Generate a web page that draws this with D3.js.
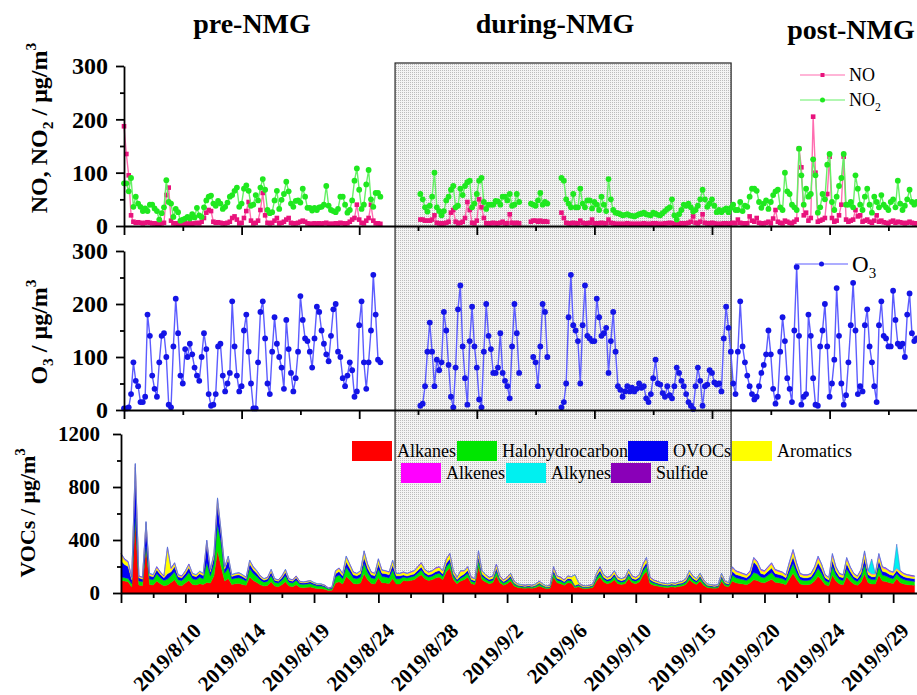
<!DOCTYPE html>
<html><head><meta charset="utf-8">
<script src="https://cdn.jsdelivr.net/npm/d3@7"></script>
<style>body{margin:0;background:#fff}svg{display:block}text{font-family:"Liberation Serif","Times New Roman",serif}</style>
</head><body>
<svg id="c" width="917" height="695" font-family="Liberation Serif, Times New Roman, serif"></svg>
<script>
// ---------- DATA (gases: one value every 4 h; VOCs: one value every 6 h) ----------
const gasStepH = 4, vocStepH = 6;
const NO = [
187,135,95,20,8,6,7,6,5,6, 7,6,5,5,4,4,5,6,58,72, 10,5,5,4,4,4,5,4,5,4, 5,6,5,8,15,25,30,28,8,6,
7,6,5,5,6,8,15,18,12,5, 6,15,28,45,10,5,6,10,30,62, 20,6,5,6,10,15,5,6,8,12, 15,6,5,5,6,8,10,8,5,4,
4,5,4,5,4,5,6,4,4,4, 5,4,6,5,4,5,8,12,15,40, 12,6,5,10,15,40,10,5,5,4,
null,null,null,null,null,null,null,null,null,null, null,null,null,null,null,null,12,12,10,10,
10,12,20,6,5,5,5,6,8,25, 30,8,5,6,8,15,45,30,6,5, 10,50,35,15,5,5,5,6,5,5, 6,8,5,5,22,6,5,6,5,null,
null,null,null,8,10,10,8,10,8,9, 8,null,null,null,null,null,25,15,6,5, 5,6,5,5,10,6,5,5,6,12,
5,5,5,6,5,5,12,6,5,4, 4,4,4,4,5,4,4,4,4,4, 4,5,4,4,4,5,5,4,4,4, 5,5,6,5,4,4,4,5,5,5,
6,8,18,6,5,8,22,6,5,5, 6,5,4,4,4,5,5,4,5,6, 5,12,6,5,5,5,18,10,8,15, 6,5,5,6,8,5,14,30,8,6,
5,10,8,6,5,8,12,145,110,20, 25,10,15,205,100,8,10,12,15,60, 130,15,8,10,20,40,130,12,8,10,
12,30,18,20,8,10,12,8,6,10, 20,8,10,7,6,5,8,10,6,8, 7,6,5,6,8,6,5,5];
const NO2 = [
80,80,65,90,36,55,42,36,28,33, 28,40,40,33,28,12,24,35,86,45, 42,17,32,26,10,12,14,17,14,22, 16,34,20,17,35,48,55,57,42,38,
47,42,32,36,44,55,58,66,72,36, 42,70,76,66,38,40,58,48,72,88, 68,30,24,26,48,66,32,49,60,83, 65,42,36,47,48,44,70,55,34,34,
29,34,30,35,36,40,75,38,30,28, 26,32,55,55,40,25,30,48,85,108, 68,32,40,78,105,50,36,62,62,55,
null,null,null,null,null,null,null,null,null,null, null,null,null,null,null,null,60,50,35,27,
38,55,100,35,28,20,28,48,55,68, 75,35,38,70,58,75,82,85,35,42, 60,85,90,45,32,40,40,40,47,46, 40,55,55,48,60,38,40,60,45,null,
null,null,null,42,40,38,48,62,40,45, 42,null,null,null,null,null,90,85,50,42, 35,60,35,35,70,42,35,48,48,33,
45,40,30,55,40,28,88,50,30,25, 24,22,20,21,22,20,19,18,20,22, 23,25,22,21,20,25,23,21,20,24, 28,32,35,50,20,12,22,30,40,38,
42,35,27,30,38,50,68,50,36,42, 50,38,26,30,26,30,33,26,34,40, 30,30,45,28,38,36,55,70,70,66, 45,34,42,48,32,45,58,65,68,35,
30,100,65,60,40,35,30,145,95,40, 70,55,60,125,95,25,35,60,50,115, 135,45,30,55,75,90,135,40,40,45,
35,95,70,40,30,55,70,40,25,55, 45,35,58,40,35,30,45,50,35,85, 42,30,38,50,68,45,40,45];
const O3 = [
3,3,5,30,90,55,45,15,15,25, 180,140,65,40,25,90,140,145,100,10, 5,120,210,145,65,50,115,100,125,105, 80,65,55,100,145,115,30,8,10,30,
120,125,65,35,50,70,205,120,65,35, 45,150,180,110,50,3,3,90,185,205, 135,50,30,110,175,125,100,80,40,170, 115,70,35,60,110,215,170,135,130,110,
80,135,195,185,150,125,105,92,140,190, 200,110,100,60,45,65,90,75,25,35, 160,205,90,40,90,150,255,180,95,90,
null,null,null,null,null,null,null,null,null,null, null,null,null,null,null,null,8,12,45,110,
165,110,45,95,75,90,185,150,85,25, 5,80,190,235,120,60,10,130,195,120, 80,20,5,110,200,140,115,70,70,80, 145,70,55,45,22,120,200,145,70,null,
null,null,null,null,100,90,45,120,200,185, 100,null,null,null,null,null,5,15,50,175, 255,160,150,130,50,160,235,140,135,130,
130,210,175,140,145,155,70,130,185,110, 45,38,25,35,45,35,42,35,40,50, 42,45,22,15,30,60,95,50,48,32, 25,45,28,22,45,80,70,55,45,30,
15,8,2,45,80,55,8,45,48,75, 70,52,48,50,35,135,195,155,110,50, 30,110,205,120,90,65,45,30,20,25, 45,70,85,105,150,105,40,12,25,110,
175,130,60,40,15,150,270,140,10,25, 30,180,140,60,10,8,120,150,200,120, 25,50,95,230,140,50,10,28,90,160,
240,150,30,45,35,160,190,120,90,45, 15,160,205,140,135,120,120,225,170,125, 120,125,100,180,220,145,130,135];

const Alkanes = [
95,90,85,45,550,60,55,340,65,60, 90,70,55,60,80,100,60,55,75,95, 65,60,70,65,80,75,130,320,200,90, 110,65,70,72,65,58,120,95,80,62,
52,57,85,52,48,62,85,52,48,62, 43,40,43,45,38,33,33,28,18,20, 75,85,68,125,100,72,68,75,145,100, 72,68,115,78,76,72,110,68,68,95,
90,95,100,120,138,108,95,100,113,120, 100,160,190,100,70,90,100,120,70,65, 200,100,83,70,77,132,77,59,70,90, 53,41,38,35,38,35,41,53,41,32,
35,120,77,70,59,77,74,40,47,35, 32,35,41,90,120,83,70,77,100,70, 65,70,108,77,70,83,132,165,70,59, 53,47,44,41,47,44,50,53,65,100,
77,65,90,59,41,38,35,38,90,53, 47,90,77,72,68,63,77,100,95,81, 77,90,103,81,77,72,63,108,150,103, 68,63,63,68,90,126,99,63,54,135,
90,68,63,122,90,68,58,81,144,77, 68,68,135,90,86,77,72,110,77,68, 63,61,58];
const Halohydrocarbon = [
25,25,25,25,40,30,30,20,40,40, 55,45,40,45,50,60,40,38,45,60, 42,40,48,42,150,55,90,200,180,60, 80,40,42,43,40,32,65,52,45,35,
30,32,45,30,27,35,45,30,27,35, 25,24,25,26,22,20,20,17,12,13, 45,50,40,70,55,42,40,45,80,55, 42,40,65,46,45,42,65,40,40,25,
23,25,27,30,35,27,25,27,29,30, 27,38,40,27,19,22,27,30,19,17, 45,27,22,19,20,33,20,16,19,23, 14,11,10,9,10,9,11,14,11,9,
9,30,20,19,16,20,19,10,12,9, 9,9,11,23,30,22,19,20,27,19, 17,19,27,20,19,22,33,40,19,16, 14,12,12,11,12,12,13,14,17,27,
20,17,23,16,11,10,9,10,23,14, 12,45,38,36,33,31,38,55,50,40, 38,45,51,40,38,36,31,53,73,51, 33,31,31,33,45,62,49,31,27,66,
45,33,31,60,45,33,29,40,70,38, 33,33,66,45,42,38,36,35,38,33, 31,30,29];
const OVOCs = [
125,100,90,30,360,25,20,165,25,22, 30,25,20,40,30,40,22,22,28,38, 25,23,28,25,150,30,50,160,65,30, 65,20,22,23,20,17,35,28,25,18,
15,17,28,15,14,18,27,15,14,18, 12,11,12,13,11,9,9,8,5,6, 25,28,22,40,32,23,22,25,45,32, 23,22,38,26,25,23,37,22,22,16,
15,16,17,20,23,18,16,17,19,20, 17,26,28,17,12,15,17,20,12,11, 30,17,14,12,13,22,13,10,12,15, 9,7,7,6,7,6,7,9,7,5,
6,20,13,12,10,13,13,7,8,6, 5,6,7,15,20,14,12,13,17,12, 11,12,18,13,12,14,22,27,12,10, 9,8,7,7,8,7,8,9,11,17,
13,11,15,10,7,7,6,7,15,9, 8,30,25,24,22,21,25,80,60,27, 25,30,35,27,25,24,21,36,50,35, 22,21,21,22,30,42,33,21,18,45,
30,22,21,40,30,22,20,27,48,25, 22,22,45,30,28,25,24,25,25,22, 21,20,20];
const Aromatics = [
50,35,30,12,20,10,10,10,14,12, 18,14,10,195,22,22,12,10,15,20, 13,12,14,13,14,15,22,30,18,15, 18,11,12,12,11,9,22,18,15,11,
9,10,16,9,8,11,17,9,8,11, 7,7,7,8,6,5,5,4,3,4, 20,22,16,38,27,19,16,20,42,27, 19,16,35,20,19,19,32,16,16,19,
18,19,21,24,28,22,19,21,23,24, 21,30,36,21,15,38,21,24,15,13, 38,21,17,15,16,27,16,12,15,18, 11,8,7,7,7,7,8,11,8,6,
7,24,16,15,12,16,15,80,10,7, 6,7,8,18,24,17,15,16,21,15, 13,15,22,16,15,17,27,32,15,12, 11,10,9,8,10,9,11,11,13,21,
16,13,18,12,8,7,7,7,18,11, 10,25,21,20,19,17,21,25,25,22, 21,25,29,22,21,20,17,30,42,29, 19,17,17,19,25,35,28,17,15,38,
25,19,17,34,25,19,16,22,40,21, 19,19,38,25,24,21,20,15,21,19, 17,16,16];
const Alkenes = [
3,5,5,4,5,3,3,3,4,4, 5,4,3,6,5,5,4,3,4,5, 3,3,3,3,4,3,5,6,4,3, 4,2,2,3,2,2,5,4,3,2,
2,2,4,2,1,2,4,2,1,2, 1,1,1,1,1,1,1,1,1,1, 3,3,2,4,3,2,2,3,5,3, 2,2,4,3,3,2,3,2,2,3,
2,3,3,4,4,3,3,3,4,4, 3,4,4,3,2,3,3,4,2,2, 5,3,2,2,2,4,2,1,2,2, 1,1,1,1,1,1,1,1,1,1,
1,4,2,2,1,2,2,1,1,1, 1,1,1,2,4,2,2,2,3,2, 2,2,3,2,2,2,4,4,2,1, 1,1,1,1,1,1,1,1,2,3,
2,2,2,1,1,1,1,1,2,1, 1,6,5,4,4,4,5,6,6,6, 5,6,8,6,5,4,4,9,11,8, 4,4,4,4,6,11,7,4,2,12,
6,4,4,10,6,4,3,6,14,5, 4,4,12,6,6,5,4,3,5,4, 4,4,3];
const Alkynes = [
1,3,3,2,3,1,1,1,1,1, 1,1,1,2,2,2,1,1,2,1, 1,1,1,1,1,1,2,2,2,1, 2,1,1,1,1,1,2,2,1,1,
1,1,1,1,1,1,1,1,1,1, 1,1,1,1,1,1,1,1,0,0, 1,1,1,2,2,1,1,1,2,2, 1,1,2,1,1,1,2,1,1,1,
1,1,1,1,1,1,1,1,1,1, 1,1,1,1,1,1,1,1,1,1, 1,1,1,1,1,1,1,1,1,1, 1,1,1,1,1,1,1,1,1,1,
1,1,1,1,1,1,1,1,1,1, 1,1,1,1,1,1,1,1,1,1, 1,1,1,1,1,1,1,1,1,1, 1,1,1,1,1,1,1,1,1,1,
1,1,1,1,1,1,1,1,1,1, 1,2,2,2,2,2,2,2,2,2, 2,2,2,2,2,2,2,2,2,2, 2,2,2,2,2,2,2,2,2,2,
2,2,2,2,2,2,2,2,2,2, 110,2,2,2,2,2,2,180,2,2, 2,2,2];
const Sulfide = [
1,2,2,2,2,1,1,1,1,1, 1,1,1,1,1,1,1,1,1,1, 1,1,1,1,1,1,1,1,1,1, 1,1,1,1,1,1,1,1,1,1,
1,1,1,1,1,1,1,1,1,1, 1,1,1,1,1,1,1,1,1,1, 1,1,1,1,1,1,1,1,1,1, 1,1,1,1,1,1,1,1,1,1,
1,1,1,1,1,1,1,1,1,1, 1,1,1,1,1,1,1,1,1,1, 1,1,1,1,1,1,1,1,1,1, 1,1,1,1,1,1,1,1,1,1,
1,1,1,1,1,1,1,1,1,1, 1,1,1,1,1,1,1,1,1,1, 1,1,1,1,1,1,1,1,1,1, 1,1,1,1,1,1,1,1,1,1,
1,1,1,1,1,1,1,1,1,1, 1,2,2,2,2,2,2,2,2,2, 2,2,2,2,2,2,2,2,2,2, 2,2,2,2,2,2,2,2,2,2,
2,2,2,2,2,2,2,2,2,2, 2,2,2,2,2,2,2,2,2,2, 2,2,2];

const vocNames = ["Alkanes","Halohydrocarbon","OVOCs","Aromatics","Alkenes","Alkynes","Sulfide"];
const vocSeries = [Alkanes,Halohydrocarbon,OVOCs,Aromatics,Alkenes,Alkynes,Sulfide];
const vocColors = ["#ff0000","#00e600","#0000f5","#ffff00","#ff00ff","#00f0f0","#8a00b8"];
const xTickLabels = ["2019/8/10","2019/8/14","2019/8/19","2019/8/24","2019/8/28","2019/9/2","2019/9/6","2019/9/10","2019/9/15","2019/9/20","2019/9/24","2019/9/29"];
const periodLabels = ["pre-NMG","during-NMG","post-NMG"];
const nmgPeriodH = [460, 1024];          // start / end of the during-NMG window (hours)
const bottomTickStepH = 108;              // labelled ticks of the VOC panel
const topTickStepH = 100;                 // ticks of the two upper panels
const gasTicks = [0,100,200,300], gasMinor = [50,150,250];
const vocTicks = [0,400,800,1200], vocMinor = [200,600,1000];

const FONT = "Liberation Serif, Times New Roman, serif";

// ---------- SCALES ----------
const svg = d3.select("#c");
const xTop = d3.scaleLinear().domain([0,1400]).range([124, 124 + 1400*0.588]);
const xBot = d3.scaleLinear().domain([0,1400]).range([121, 121 + 1400*0.5958]);
const yNO = d3.scaleLinear().domain([0,300]).range([226,66]);
const yO3 = d3.scaleLinear().domain([0,300]).range([410,251]);
const yVOC = d3.scaleLinear().domain([0,1200]).range([593,434]);

// ---------- NMG box ----------
const defs = svg.append("defs");
const pat = defs.append("pattern").attr("id","dots").attr("width",2).attr("height",2).attr("patternUnits","userSpaceOnUse");
pat.append("rect").attr("width",2).attr("height",2).attr("fill","#f4f4f4");
pat.append("rect").attr("width",1).attr("height",1).attr("fill","#bcbcbc");
svg.append("rect").attr("x",xBot(nmgPeriodH[0])).attr("y",63)
  .attr("width",xBot(nmgPeriodH[1])-xBot(nmgPeriodH[0])).attr("height",yVOC(0)-63)
  .attr("fill","url(#dots)").attr("stroke","#222").attr("stroke-width",1.2);

// ---------- VOC stacked areas ----------
const vocTable = Alkanes.map((_,j)=>{const r={t:j*vocStepH}; vocNames.forEach((n,k)=>r[n]=vocSeries[k][j]); return r;});
const stacked = d3.stack().keys(vocNames)(vocTable);
const area = d3.area().x(d=>xBot(d.data.t)).y0(d=>yVOC(d[0])).y1(d=>yVOC(d[1]));
svg.append("g").selectAll("path").data(stacked).join("path")
  .attr("d",area).attr("fill",(d,i)=>vocColors[i])
  .attr("stroke",(d,i)=>vocColors[i]).attr("stroke-width",(d,i)=>i<4?0.4:(i===6?0.15:0.35));

// ---------- gas series ----------
function drawSeries(arr, xs, ys, lineColor, mColor, shape){
  const pts = arr.map((v,i)=>({t:i*gasStepH, v}));
  const line = d3.line().defined(d=>d.v!=null).x(d=>xs(d.t)).y(d=>ys(d.v));
  svg.append("path").attr("d",line(pts)).attr("fill","none").attr("stroke",lineColor).attr("stroke-width",1.4);
  const dd = pts.filter(d=>d.v!=null);
  const g = svg.append("g").attr("fill",mColor);
  if(shape==="square"){
    g.selectAll("rect").data(dd).join("rect").attr("x",d=>xs(d.t)-2.3).attr("y",d=>ys(d.v)-2.3).attr("width",4.6).attr("height",4.6);
  } else {
    g.selectAll("circle").data(dd).join("circle").attr("cx",d=>xs(d.t)).attr("cy",d=>ys(d.v)).attr("r",2.9);
  }
}
drawSeries(NO, xTop, yNO, "#ff6db0", "#e8127c", "square");
drawSeries(NO2, xTop, yNO, "#66f066", "#1fe81f", "circle");
drawSeries(O3, xTop, yO3, "#5c5cff", "#1414e6", "circle");

// ---------- axes ----------
function styleAxis(g){ g.selectAll("path,line").attr("stroke","#000").attr("stroke-width",1.8); g.selectAll("text").remove(); }
function xAxis(y, scale, major, minor, lenMaj, lenMin){
  svg.append("g").attr("transform",`translate(0,${y})`).call(d3.axisBottom(scale).tickValues(major).tickSize(lenMaj).tickSizeOuter(0)).call(styleAxis);
  svg.append("g").attr("transform",`translate(0,${y})`).call(d3.axisBottom(scale).tickValues(minor).tickSize(lenMin).tickSizeOuter(0)).call(styleAxis).select(".domain").remove();
}
const topMajor = d3.range(0,1400,topTickStepH*2), topMinor = d3.range(topTickStepH,1400,topTickStepH*2);
xAxis(yNO(0), xTop, topMajor, topMinor, 9, 5);
xAxis(yO3(0), xTop, topMajor, topMinor, 9, 5);
const botMajor = d3.range(0,1400,bottomTickStepH), botMinor = d3.range(bottomTickStepH/2,1400,bottomTickStepH);
xAxis(yVOC(0), xBot, botMajor, botMinor, 10, 5);

function yAxis(x, scale, major, minor, fs, pad){
  const g = svg.append("g").attr("transform",`translate(${x},0)`)
    .call(d3.axisLeft(scale).tickValues(major).tickSize(8).tickSizeOuter(0).tickPadding(pad).tickFormat(d3.format("d")));
  g.attr("font-family",FONT);
  g.selectAll("path,line").attr("stroke","#000").attr("stroke-width",1.8);
  g.selectAll("text").attr("font-family",FONT).attr("font-weight","bold").attr("font-size",fs).attr("fill","#000");
  svg.append("g").attr("transform",`translate(${x},0)`)
    .call(d3.axisLeft(scale).tickValues(minor).tickSize(4).tickSizeOuter(0).tickFormat(""))
    .call(g2=>{g2.select(".domain").remove(); g2.selectAll("line").attr("stroke","#000").attr("stroke-width",1.8);});
}
yAxis(xTop(0), yNO, gasTicks, gasMinor, 24, 8);
yAxis(xTop(0), yO3, gasTicks, gasMinor, 24, 8);
yAxis(xBot(0), yVOC, vocTicks, vocMinor, 21, 13);

// bottom tick labels
svg.append("g").attr("font-family",FONT).selectAll("text").data(xTickLabels).join("text")
  .attr("transform",(d,i)=>`translate(${xBot((i+1)*bottomTickStepH)+17},632) rotate(-45)`)
  .attr("font-family",FONT).attr("text-anchor","end").attr("font-weight","bold").attr("font-size",21).text(d=>d);

// ---------- titles ----------
const titleX = [252,555,851], titleY = [33,33,39];
svg.append("g").selectAll("text").data(periodLabels).join("text")
  .attr("x",(d,i)=>titleX[i]).attr("y",(d,i)=>titleY[i]).attr("text-anchor","middle")
  .attr("font-family",FONT).attr("font-weight","bold").attr("font-size",28).text(d=>d);

function yTitle(x, y, parts, fs){
  const t = svg.append("text").attr("transform",`translate(${x},${y}) rotate(-90)`).attr("text-anchor","middle")
    .attr("font-family",FONT).attr("font-weight","bold").attr("font-size",fs);
  parts.forEach(p=>{
    const s = t.append("tspan").text(p[0]);
    if(p[1]==="sub"){ s.attr("font-size",fs*0.65).attr("dy",fs*0.25); }
    else if(p[1]==="sup"){ s.attr("font-size",fs*0.65).attr("dy",-fs*0.45); }
    else if(p[1]==="back"){ s.attr("dy",p[2]); }
  });
}
yTitle(47,128,[["NO, NO"],["2","sub"],[" / μg/m","back",-24*0.25],["3","sup"]],24);
yTitle(47,332,[["O"],["3","sub"],[" / μg/m","back",-24*0.25],["3","sup"]],24);
yTitle(35,513,[["VOCs / μg/m"],["3","sup"]],22);

// ---------- legends ----------
function lineLegend(x1,x2,y,lineColor,mColor,shape,label,sub,fs){
  svg.append("line").attr("x1",x1).attr("x2",x2).attr("y1",y).attr("y2",y).attr("stroke",lineColor).attr("stroke-width",1.2);
  const mx=(x1+x2)/2;
  if(shape==="square") svg.append("rect").attr("x",mx-2).attr("y",y-2).attr("width",4).attr("height",4).attr("fill",mColor);
  else svg.append("circle").attr("cx",mx).attr("cy",y).attr("r",2.5).attr("fill",mColor);
  const t=svg.append("text").attr("x",x2+4).attr("y",y+fs*0.36).attr("font-family",FONT).attr("font-size",fs).text(label);
  if(sub) t.append("tspan").attr("font-size",fs*0.65).attr("dy",fs*0.25).text(sub);
}
lineLegend(800,845,75,"#ff6db0","#e8127c","square","NO","",18);
lineLegend(800,845,100,"#66f066","#1fe81f","circle","NO","2",18);
lineLegend(795,848,264,"#5c5cff","#1414e6","circle","O","3",23);

const vocLegX = [352,457,628,732,401,506,611], vocLegY = [441,441,441,441,463,463,463];
vocNames.forEach((n,i)=>{
  svg.append("rect").attr("x",vocLegX[i]).attr("y",vocLegY[i]).attr("width",40).attr("height",20).attr("fill",vocColors[i]);
  svg.append("text").attr("x",vocLegX[i]+45).attr("y",vocLegY[i]+16).attr("font-family",FONT).attr("font-size",18).text(n);
});
</script>
</body></html>
